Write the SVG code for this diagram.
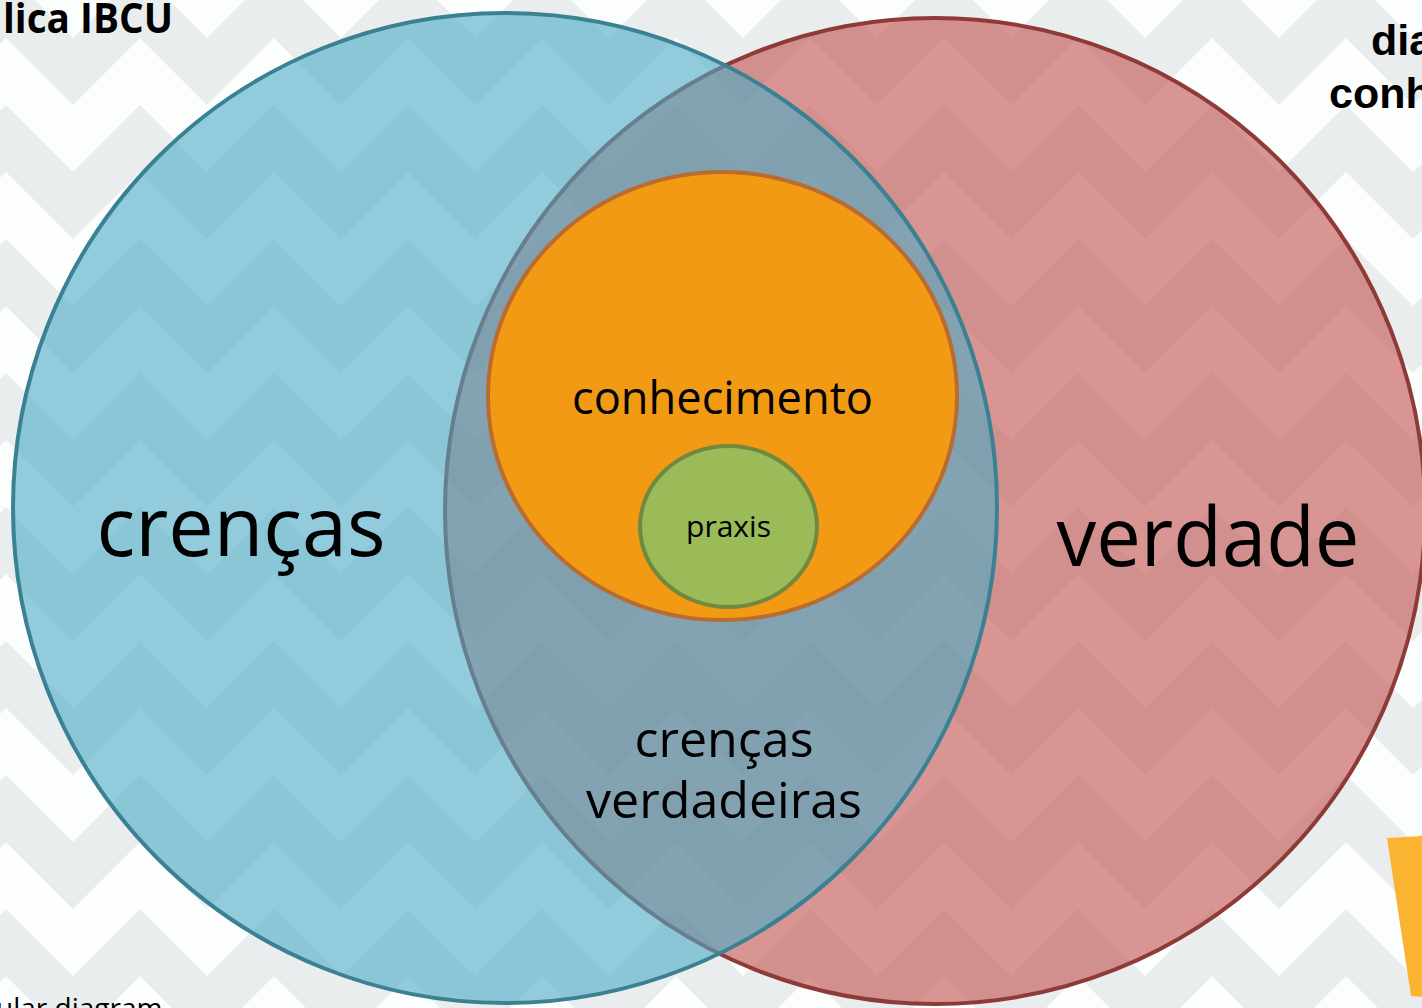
<svg xmlns="http://www.w3.org/2000/svg" width="1422" height="1008" viewBox="0 0 1422 1008">
  <defs>
    <pattern id="chev" patternUnits="userSpaceOnUse" x="73" y="105" width="134" height="134">
      <rect x="0" y="0" width="134" height="134" fill="#fcfdfd"/>
      <polygon points="0,67 67,0 134,67 134,134 67,67 0,134" fill="#eaeded"/>
    </pattern>
    <style>
      .lbl { font-family: "Open Sans", "Noto Sans", "DejaVu Sans", sans-serif; fill: #000; text-anchor: middle; }
      .hdr { font-family: "Liberation Sans", Arial, sans-serif; font-weight: bold; fill: #000; }
      .cap { font-family: "Open Sans", "Noto Sans", sans-serif; fill: #000; }
    </style>
  </defs>

  <rect id="background" x="0" y="0" width="1422" height="1008" fill="url(#chev)"/>

  <g id="node-verdade">
    <ellipse cx="935" cy="511" rx="490" ry="493" fill="#c0504d" fill-opacity="0.6" stroke="#8e3a37" stroke-width="4"/>
    <text class="lbl" x="1208" y="566" font-size="82" textLength="303" lengthAdjust="spacingAndGlyphs">verdade</text>
  </g>

  <g id="node-crencas">
    <ellipse cx="505" cy="508" rx="492" ry="495" fill="#4bacc6" fill-opacity="0.6" stroke="#3a8193" stroke-width="4"/>
    <text class="lbl" x="241" y="556" font-size="82" textLength="289" lengthAdjust="spacingAndGlyphs">crenças</text>
  </g>

  <g id="node-crencas-verdadeiras">
    <text class="lbl" x="724" y="757" font-size="50" textLength="179" lengthAdjust="spacingAndGlyphs">crenças</text>
    <text class="lbl" x="724" y="818" font-size="50" textLength="276" lengthAdjust="spacingAndGlyphs">verdadeiras</text>
  </g>

  <g id="node-conhecimento">
    <ellipse cx="722.5" cy="396" rx="234.5" ry="224" fill="#f29a14" stroke="#b96c2f" stroke-width="4"/>
    <text class="lbl" x="722.5" y="414" font-size="46" textLength="301" lengthAdjust="spacingAndGlyphs">conhecimento</text>
  </g>

  <g id="node-praxis">
    <ellipse cx="728.5" cy="526.5" rx="88.5" ry="80.5" fill="#9bbb59" stroke="#71893f" stroke-width="4"/>
    <text class="lbl" x="728.5" y="537" font-size="30" textLength="85" lengthAdjust="spacingAndGlyphs">praxis</text>
  </g>

  <g id="connectors"/>

  <g id="slide-fragments">
    <text class="cap" x="3" y="33" font-size="41" font-weight="bold" textLength="170" lengthAdjust="spacingAndGlyphs">lica IBCU</text>
    <text class="hdr" x="1371" y="55" font-size="43">dia</text>
    <text class="hdr" x="1329" y="108" font-size="43">conh</text>
    <text class="cap" x="-4" y="1018" font-size="28">ular diagram</text>
    <polygon points="1387,838 1422,836 1422,997 1411,996" fill="#fbb431"/>
  </g>
</svg>
